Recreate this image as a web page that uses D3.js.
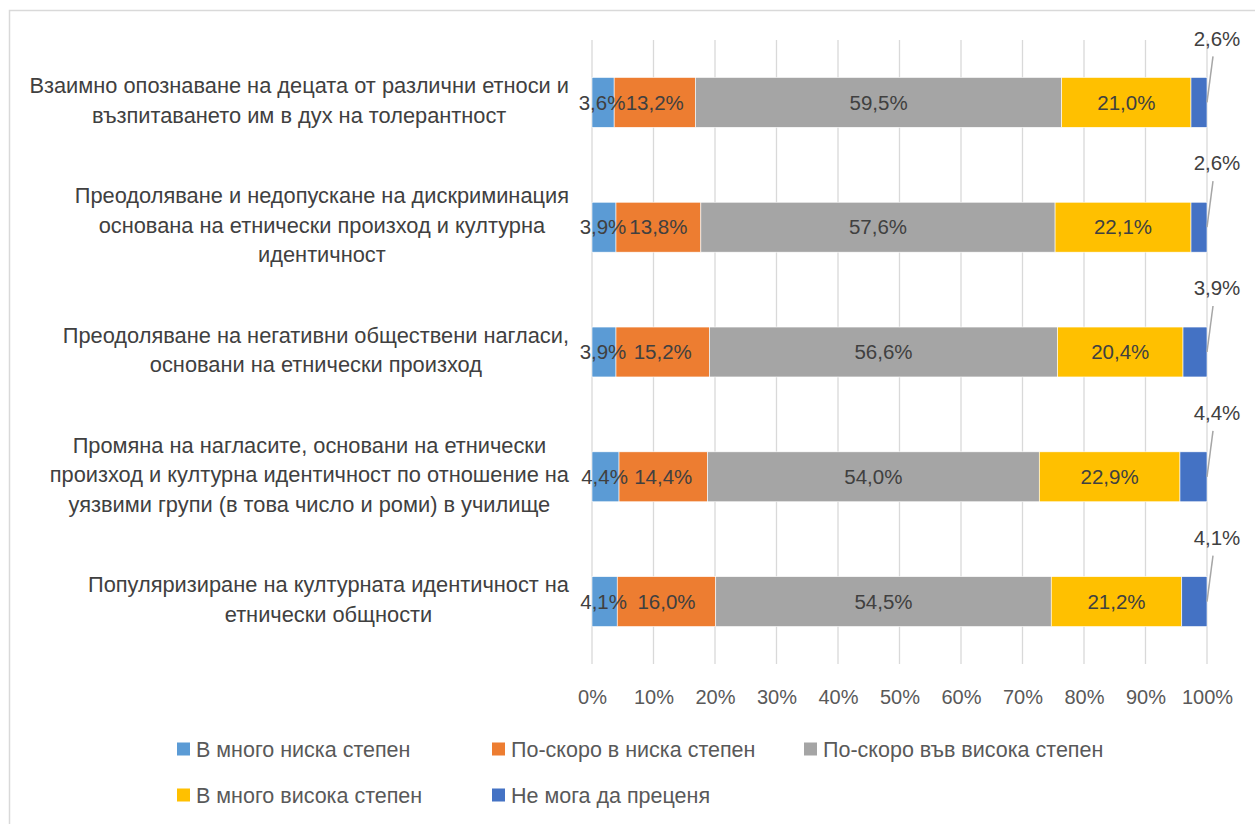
<!DOCTYPE html>
<html><head><meta charset="utf-8">
<script src="https://cdn.jsdelivr.net/npm/d3@7/dist/d3.min.js"></script>
<style>body{margin:0;background:#fff;} text{font-family:"Liberation Sans",Arial,sans-serif;}</style>
</head><body><svg id="c" width="1255" height="824"></svg>
<script>
const categories = [
  ["Взаимно опознаване на децата от различни етноси и","възпитаването им в дух на толерантност"],
  ["Преодоляване и недопускане на дискриминация","основана на етнически произход и културна","идентичност"],
  ["Преодоляване на негативни обществени нагласи,","основани на етнически произход"],
  ["Промяна на нагласите, основани на етнически","произход и културна идентичност по отношение на","уязвими групи (в това число и роми) в училище"],
  ["Популяризиране на културната идентичност на","етнически общности"]
];
const seriesNames = ["В много ниска степен","По-скоро в ниска степен","По-скоро във висока степен","В много висока степен","Не мога да преценя"];
const s1 = [3.6, 3.9, 3.9, 4.4, 4.1];
const s2 = [13.2, 13.8, 15.2, 14.4, 16.0];
const s3 = [59.5, 57.6, 56.6, 54.0, 54.5];
const s4 = [21.0, 22.1, 20.4, 22.9, 21.2];
const s5 = [2.6, 2.6, 3.9, 4.4, 4.1];
const colors = ["#5B9BD5","#ED7D31","#A5A5A5","#FFC000","#4472C4"];
const tickValues = [0,0.1,0.2,0.3,0.4,0.5,0.6,0.7,0.8,0.9,1];

const series = [s1,s2,s3,s4,s5];
const svg = d3.select("#c");
svg.append("rect").attr("x",9.5).attr("y",10.5).attr("width",1260).attr("height",830)
  .attr("fill","none").attr("stroke","#d9d9d9").attr("stroke-width",1.5);

const plotTop = 40, plotBottom = 664;
const x = d3.scaleLinear().domain([0,1]).range([592,1207]);
const y = d3.scaleBand().domain(d3.range(categories.length)).range([plotTop,plotBottom]).paddingInner(0.6).paddingOuter(0.3);

// gridlines
svg.append("g").selectAll("line").data(tickValues).join("line")
  .attr("x1",d=>x(d)).attr("x2",d=>x(d)).attr("y1",plotTop).attr("y2",plotBottom)
  .attr("stroke","#d9d9d9").attr("stroke-width",1.3);

// axis labels
const xAxis = d3.axisBottom(x).tickValues(tickValues).tickFormat(d=>Math.round(d*100)+"%").tickSize(0).tickPadding(0);
const ax = svg.append("g").attr("transform","translate(0,697)").call(xAxis);
ax.select(".domain").remove();
ax.selectAll("text").attr("fill","#595959").style("font-size","20px").attr("dy","0.35em").style("font-family","Liberation Sans, Arial, sans-serif");

// stacked bars
const rows = categories.map((c,i)=>{
  const vals = series.map(s=>s[i]);
  const tot = d3.sum(vals);
  let acc=0;
  return vals.map((v,k)=>{const o={i,k,v,x0:acc/tot,x1:(acc+v)/tot}; acc+=v; return o;});
});
const segs = rows.flat();
svg.append("g").selectAll("rect").data(segs).join("rect")
  .attr("x",d=>x(d.x0)).attr("width",d=>x(d.x1)-x(d.x0))
  .attr("y",d=>y(d.i)).attr("height",y.bandwidth())
  .attr("fill",d=>colors[d.k]).attr("stroke","#fff").attr("stroke-width",0.6);

const fmt = v => v.toFixed(1).replace(".",",")+"%";
// inner labels
svg.append("g").selectAll("text").data(segs.filter(d=>d.k<4)).join("text")
  .attr("x",d=>(x(d.x0)+x(d.x1))/2 + (d.k===0?-1:0)).attr("y",d=>y(d.i)+y.bandwidth()/2)
  .attr("dy","0.35em").attr("text-anchor","middle").attr("fill","#404040").style("font-size","20.5px")
  .text(d=>fmt(d.v));
// outer labels for last series with leader lines
const last = segs.filter(d=>d.k===4);
svg.append("g").selectAll("line").data(last).join("line")
  .attr("x1",d=>x(d.x1)).attr("y1",d=>y(d.i)+y.bandwidth()/2)
  .attr("x2",d=>x(d.x1)+6).attr("y2",d=>y(d.i)+y.bandwidth()/2-46)
  .attr("stroke","#a6a6a6").attr("stroke-width",1.5);
svg.append("g").selectAll("text").data(last).join("text")
  .attr("x",d=>x(d.x1)+10).attr("y",d=>y(d.i)+y.bandwidth()/2-64)
  .attr("dy","0.35em").attr("text-anchor","middle").attr("fill","#404040").style("font-size","20.5px")
  .text(d=>fmt(d.v));

// category labels
const cg = svg.append("g");
categories.forEach((lines,i)=>{
  const cy = y(i)+y.bandwidth()/2 - 2;
  const lh = 29.5;
  const t = cg.append("text").attr("text-anchor","middle").attr("fill","#404040").style("font-size","21.8px");
  lines.forEach((ln,j)=>{
    t.append("tspan").attr("x",0).attr("y",cy+(j-(lines.length-1)/2)*lh).attr("dy","0.35em").text(ln);
  });
  const w = d3.max(t.selectAll("tspan").nodes(),n=>n.getComputedTextLength());
  t.selectAll("tspan").attr("x",569-w/2);
});

// legend
const legPos = [[177,749],[492,749],[804,749],[177,795],[492,795]];
const lg = svg.append("g").selectAll("g").data(seriesNames).join("g")
  .attr("transform",(d,i)=>`translate(${legPos[i][0]},${legPos[i][1]})`);
lg.append("rect").attr("x",0).attr("y",-6.5).attr("width",13).attr("height",13).attr("fill",(d,i)=>colors[i]);
lg.append("text").attr("x",19).attr("y",0).attr("dy","0.35em").attr("fill","#595959").style("font-size","21.5px").text(d=>d);
</script></body></html>
